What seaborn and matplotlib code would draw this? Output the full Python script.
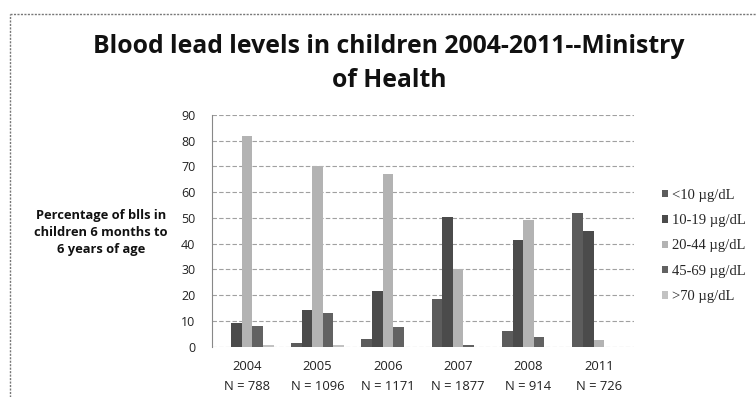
import matplotlib
matplotlib.use("Agg")
import matplotlib.pyplot as plt
from matplotlib.lines import Line2D
import seaborn as sns
import pandas as pd

# Survey years and sample sizes
years = ["2004", "2005", "2006", "2007", "2008", "2011"]
sample_n = [788, 1096, 1171, 1877, 914, 726]

# Percentage of children in each blood-lead band
bands = ["<10 µg/dL", "10-19 µg/dL", "20-44 µg/dL", "45-69 µg/dL", ">70 µg/dL"]
pct_lt10 = [0, 1.5, 3, 18.5, 6, 52]
pct_10_19 = [9, 14, 21.5, 50.5, 41.5, 45]
pct_20_44 = [82, 70, 67, 30, 49, 2.5]
pct_45_69 = [8, 13, 7.5, 0.5, 3.7, 0]
pct_gt70 = [0.5, 0.5, 0, 0, 0, 0]

band_colors = ["#5c5c5c", "#4b4b4b", "#b3b3b3", "#626262", "#c2c2c2"]

series = [pct_lt10, pct_10_19, pct_20_44, pct_45_69, pct_gt70]
year_labels = [f"{y}\nN = {n}" for y, n in zip(years, sample_n)]
rows = []
for band, vals in zip(bands, series):
    for lab, v in zip(year_labels, vals):
        rows.append({"year": lab, "band": band, "pct": v})
df = pd.DataFrame(rows)

sns.set_style("white")
plt.rcParams["font.family"] = ["Open Sans", "DejaVu Sans"]

W, H = 756, 397
fig = plt.figure(figsize=(W / 100, H / 100), dpi=100)
ax = fig.add_axes([212 / W, 1 - 346.5 / H, 422 / W, 231.5 / H])

sns.barplot(data=df, x="year", y="pct", hue="band", hue_order=bands,
            order=year_labels, palette=band_colors, width=0.75,
            saturation=1, linewidth=0, ax=ax)

ax.set_ylim(0, 90)
ax.set_xlim(-0.5, len(years) - 0.5)
ax.set_yticks(range(0, 91, 10))
ax.yaxis.grid(True, color="#a0a0a0", linestyle=(0, (4, 2)), linewidth=0.8)
ax.set_axisbelow(True)
for side in ["top", "right", "bottom"]:
    ax.spines[side].set_visible(False)
ax.spines["left"].set_color("#888888")
ax.spines["left"].set_linewidth(0.8)

ax.tick_params(axis="y", length=0, labelsize=9, pad=12, colors="#222222")
ax.tick_params(axis="x", length=0, labelsize=9.4, pad=10, colors="#222222")
ax.set_xticks(range(len(years)))
ax.set_xticks([i + 0.5 for i in range(len(years))], minor=True)
ax.tick_params(axis="x", which="minor", length=4, color="#777777", direction="out")
for t in ax.get_xticklabels():
    t.set_linespacing(1.65)
ax.set_xlabel("")
ax.set_ylabel("")

# axis description on the left
ylabel_lines = ["Percentage of blls in", "children 6 months to", "6 years of age"]
for line, yc in zip(ylabel_lines, [215, 232, 249]):
    fig.text(101 / W, 1 - yc / H, line, ha="center", va="center",
             fontsize=9.3, fontweight="bold", color="#111111")

# two-line title
for line, base in zip(["Blood lead levels in children 2004-2011--Ministry", "of Health"], [53, 87]):
    fig.text(389 / W, 1 - base / H, line, ha="center", va="baseline",
             fontsize=17.8, fontweight="bold", color="#111111")

handles, labels = ax.get_legend_handles_labels()
ax.legend(handles, labels, loc="center left", bbox_to_anchor=(649 / W, 1 - 246 / H),
          bbox_transform=fig.transFigure, frameon=False,
          handlelength=0.4, handleheight=0.4, handletextpad=0.3,
          labelspacing=0.85, prop={"family": "Liberation Serif", "size": 10.5})

# dotted frame around the chart area
fig.add_artist(Line2D([10 / W, 1.0], [1 - 14 / H, 1 - 14 / H], transform=fig.transFigure,
                      color="#777777", linestyle=(0, (1.5, 1)), linewidth=1))
fig.add_artist(Line2D([10 / W, 10 / W], [0.0, 1 - 14 / H], transform=fig.transFigure,
                      color="#777777", linestyle=(0, (1.5, 1)), linewidth=1))

fig.savefig("out.png", dpi=100, facecolor="white")
